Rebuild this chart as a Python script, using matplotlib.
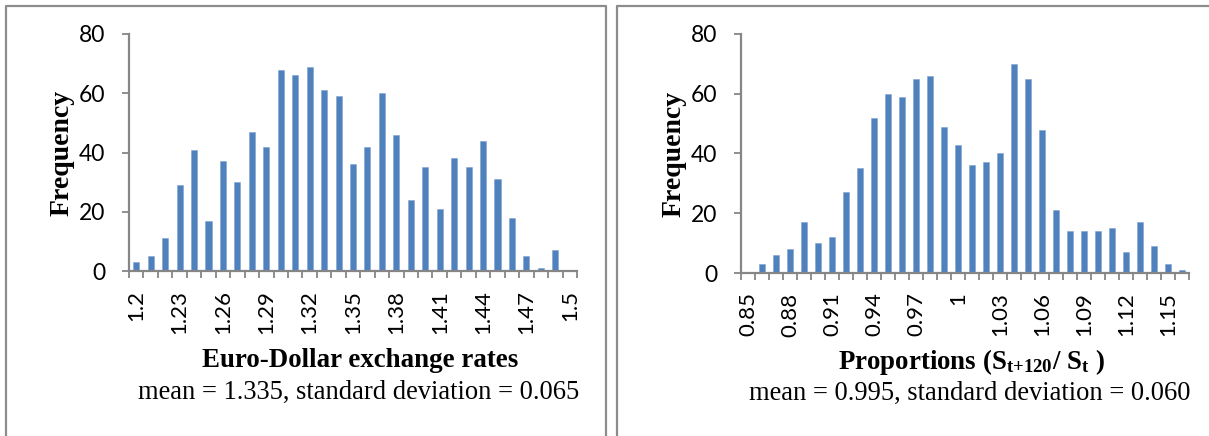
import numpy as np
import matplotlib
matplotlib.use('Agg')
import matplotlib.pyplot as plt
from matplotlib.lines import Line2D

plt.rcParams['mathtext.fontset'] = 'custom'
plt.rcParams['mathtext.rm'] = 'Liberation Serif'
plt.rcParams['mathtext.bf'] = 'Liberation Serif:bold'
plt.rcParams['mathtext.default'] = 'bf'

# Left histogram: Euro-Dollar exchange rates (bins 1.20 .. 1.50)
euro_bins = ['1.2', '1.21', '1.22', '1.23', '1.24', '1.25', '1.26', '1.27', '1.28', '1.29',
             '1.3', '1.31', '1.32', '1.33', '1.34', '1.35', '1.36', '1.37', '1.38', '1.39',
             '1.4', '1.41', '1.42', '1.43', '1.44', '1.45', '1.46', '1.47', '1.48', '1.49', '1.5']
euro_freq = [3, 5, 11, 29, 41, 17, 37, 30, 47, 42,
             68, 66, 69, 61, 59, 36, 42, 60, 46, 24,
             35, 21, 38, 35, 44, 31, 18, 5, 1, 7, 0]

# Right histogram: proportions S(t+120)/S(t) (bins 0.85 .. 1.16)
prop_bins = ['0.85', '0.86', '0.87', '0.88', '0.89', '0.9', '0.91', '0.92', '0.93', '0.94',
             '0.95', '0.96', '0.97', '0.98', '0.99', '1', '1.01', '1.02', '1.03', '1.04',
             '1.05', '1.06', '1.07', '1.08', '1.09', '1.1', '1.11', '1.12', '1.13', '1.14',
             '1.15', '1.16']
prop_freq = [0, 3, 6, 8, 17, 10, 12, 27, 35, 52,
             60, 59, 65, 66, 49, 43, 36, 37, 40, 70,
             65, 48, 21, 14, 14, 14, 15, 7, 17, 9,
             3, 1]

BAR_COLOR = '#4F81BD'
AX_COLOR = '#868686'
FRAME_COLOR = '#8C8C8C'
W, H = 1209, 436


def draw_hist(ax, labels, freq):
    x = np.arange(len(labels))
    ax.bar(x, freq, width=0.42, color=BAR_COLOR, edgecolor='#7FA3D3', linewidth=0.4)
    ax.set_xlim(-0.5, len(labels) - 0.5)
    ax.set_ylim(0, 80)
    ax.set_yticks([0, 20, 40, 60, 80])
    ax.set_xticks(x[::3])
    ax.set_xticklabels(labels[::3], rotation=90)
    ax.set_xticks(np.arange(len(labels) + 1) - 0.5, minor=True)
    for s in ['top', 'right']:
        ax.spines[s].set_visible(False)
    for s in ['left', 'bottom']:
        ax.spines[s].set_color(AX_COLOR)
        ax.spines[s].set_linewidth(1.6)
    ax.tick_params(axis='x', which='major', length=0, pad=14, labelsize=16)
    ax.tick_params(axis='x', which='minor', length=5, width=1.3, color=AX_COLOR)
    ax.tick_params(axis='y', length=5, width=1.3, color=AX_COLOR, pad=12, labelsize=16.5)
    for lab in ax.get_xticklabels() + ax.get_yticklabels():
        lab.set_fontfamily('Lato')
    ax.set_ylabel('Frequency', fontfamily='Liberation Serif', fontweight='bold',
                  fontsize=20, labelpad=3)
    return ax


fig = plt.figure(figsize=(W / 100, H / 100), dpi=100)

ax1 = fig.add_axes([129 / W, 1 - 271 / H, 448 / W, 237 / H])
draw_hist(ax1, euro_bins, euro_freq)
fig.text(360 / W, 1 - 360 / H, 'Euro-Dollar exchange rates', ha='center', va='center',
         fontfamily='Liberation Serif', fontweight='bold', fontsize=19.4)
fig.text(359 / W, 1 - 392 / H, 'mean = 1.335, standard deviation = 0.065', ha='center',
         va='center', fontfamily='Liberation Serif', fontsize=19.1)

ax2 = fig.add_axes([741 / W, 1 - 273 / H, 448 / W, 239 / H])
draw_hist(ax2, prop_bins, prop_freq)
fig.text(971 / W, 1 - 362 / H, r'Proportions (S$_{t{+}120}$/ S$_{t}$ )', ha='center',
         va='center', fontfamily='Liberation Serif', fontweight='bold', fontsize=19.4)
fig.text(970 / W, 1 - 393 / H, 'mean = 0.995, standard deviation = 0.060', ha='center',
         va='center', fontfamily='Liberation Serif', fontsize=19.1)

# panel frames (clipped by the picture edges)
frames = [
    ([6, 6, 606, 606], [H + 5, 6, 6, H + 5]),
    ([617, 617, W + 5], [H + 5, 6, 6]),
]
for xs, ys in frames:
    fig.add_artist(Line2D([v / W for v in xs], [1 - v / H for v in ys],
                          color=FRAME_COLOR, linewidth=1.6, transform=fig.transFigure))

fig.savefig('out.png', dpi=100)
